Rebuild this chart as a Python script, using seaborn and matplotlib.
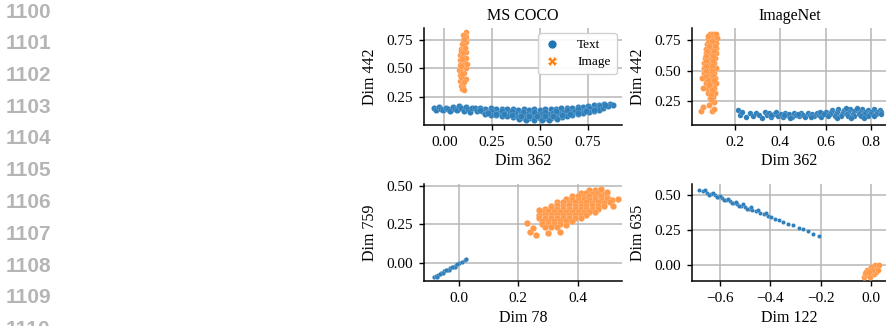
import matplotlib
matplotlib.use("Agg")
import matplotlib.pyplot as plt
from matplotlib.lines import Line2D
import seaborn as sns
import pandas as pd

# ---------------- data ----------------
line_numbers = ["1100", "1101", "1102", "1103", "1104", "1105", "1106", "1107", "1108", "1109", "1110"]
modalities = ["Text", "Image"]

# MS COCO : Dim 362 (x) vs Dim 442 (y)
coco_top_text = [
    (-0.052, 0.158), (-0.041, 0.142), (-0.030, 0.163), (-0.018, 0.150), (-0.005, 0.137), (0.008, 0.160),
    (0.019, 0.146), (0.031, 0.132), (0.044, 0.165), (0.055, 0.150), (0.067, 0.139), (0.078, 0.171),
    (0.090, 0.152), (0.101, 0.128), (0.112, 0.161), (0.124, 0.143), (0.135, 0.118), (0.146, 0.157),
    (0.160, 0.152), (0.188, 0.158), (0.215, 0.149), (0.243, 0.153), (0.272, 0.146), (0.300, 0.150),
    (0.330, 0.144), (0.358, 0.148), (0.387, 0.141), (0.415, 0.146), (0.444, 0.140), (0.472, 0.145),
    (0.500, 0.142), (0.528, 0.147), (0.556, 0.144), (0.585, 0.150), (0.613, 0.152), (0.642, 0.157),
    (0.670, 0.160), (0.698, 0.165), (0.726, 0.168), (0.754, 0.174), (0.782, 0.179), (0.810, 0.185),
    (0.838, 0.190), (0.865, 0.193), (0.882, 0.186),
    (0.172, 0.131), (0.200, 0.126), (0.229, 0.122), (0.257, 0.118), (0.286, 0.116), (0.314, 0.112),
    (0.343, 0.110), (0.371, 0.108), (0.400, 0.105), (0.428, 0.104), (0.457, 0.102), (0.485, 0.103),
    (0.514, 0.104), (0.542, 0.106), (0.571, 0.109), (0.599, 0.113), (0.628, 0.118), (0.656, 0.123),
    (0.685, 0.129), (0.713, 0.134), (0.742, 0.141), (0.770, 0.148), (0.799, 0.155), (0.827, 0.162),
    (0.855, 0.170),
    (0.185, 0.140), (0.243, 0.134), (0.300, 0.130), (0.357, 0.127), (0.414, 0.124), (0.471, 0.123),
    (0.528, 0.125), (0.585, 0.129), (0.642, 0.136), (0.699, 0.146), (0.756, 0.156), (0.813, 0.170),
    (0.215, 0.104), (0.244, 0.098), (0.272, 0.093), (0.301, 0.088), (0.329, 0.083), (0.358, 0.078),
    (0.386, 0.074), (0.415, 0.071), (0.443, 0.068), (0.472, 0.066), (0.500, 0.065), (0.529, 0.067),
    (0.557, 0.070), (0.586, 0.074), (0.614, 0.080), (0.643, 0.087), (0.671, 0.095), (0.700, 0.103),
    (0.728, 0.112), (0.757, 0.122), (0.785, 0.132), (0.812, 0.142),
    (0.390, 0.060), (0.430, 0.054), (0.470, 0.050), (0.510, 0.049), (0.550, 0.053), (0.590, 0.060),
    (0.229, 0.113), (0.272, 0.107), (0.315, 0.100), (0.357, 0.095), (0.400, 0.090), (0.443, 0.086),
    (0.486, 0.084), (0.529, 0.085), (0.571, 0.089), (0.614, 0.096), (0.657, 0.105), (0.700, 0.116),
    (0.743, 0.127), (0.786, 0.140), (0.829, 0.152), (0.843, 0.178),
]
coco_top_image = [
    (0.112, 0.820), (0.108, 0.790), (0.115, 0.770), (0.100, 0.750), (0.112, 0.730), (0.095, 0.710),
    (0.110, 0.690), (0.088, 0.670), (0.105, 0.660), (0.115, 0.640), (0.085, 0.620), (0.100, 0.610),
    (0.112, 0.590), (0.080, 0.570), (0.095, 0.560), (0.108, 0.550), (0.082, 0.530), (0.098, 0.510),
    (0.112, 0.500), (0.078, 0.490), (0.090, 0.470), (0.105, 0.460), (0.085, 0.440), (0.100, 0.420),
    (0.112, 0.410), (0.083, 0.390), (0.097, 0.370), (0.088, 0.350), (0.100, 0.340), (0.092, 0.320),
    (0.105, 0.310), (0.090, 0.430), (0.100, 0.530), (0.092, 0.600), (0.102, 0.700), (0.100, 0.790),
    (0.090, 0.650), (0.090, 0.520), (0.104, 0.380), (0.118, 0.540), (0.105, 0.760), (0.098, 0.640),
    (0.094, 0.450), (0.095, 0.580), (0.106, 0.680),
]

# ImageNet : Dim 362 (x) vs Dim 442 (y)
imnet_top_text = [
    (0.215, 0.180), (0.222, 0.140), (0.232, 0.160), (0.251, 0.120), (0.268, 0.150), (0.281, 0.131),
    (0.292, 0.155), (0.308, 0.140), (0.321, 0.110), (0.333, 0.160), (0.342, 0.135), (0.353, 0.150),
    (0.362, 0.125), (0.371, 0.145), (0.382, 0.160), (0.391, 0.130), (0.402, 0.145), (0.411, 0.120),
    (0.421, 0.155), (0.432, 0.135), (0.441, 0.145), (0.452, 0.125), (0.462, 0.150), (0.471, 0.140),
    (0.482, 0.130), (0.493, 0.155), (0.502, 0.140), (0.511, 0.125), (0.522, 0.150), (0.531, 0.135),
    (0.542, 0.145), (0.551, 0.130), (0.562, 0.155), (0.571, 0.140), (0.582, 0.125), (0.591, 0.150),
    (0.358, 0.138), (0.418, 0.137), (0.478, 0.148), (0.538, 0.122), (0.575, 0.160), (0.445, 0.112),
    (0.628, 0.182), (0.655, 0.185), (0.681, 0.180), (0.707, 0.186), (0.733, 0.181), (0.760, 0.184),
    (0.786, 0.179), (0.812, 0.183), (0.838, 0.178),
    (0.602, 0.160), (0.625, 0.164), (0.650, 0.161), (0.675, 0.166), (0.700, 0.163), (0.725, 0.167),
    (0.750, 0.162), (0.775, 0.165), (0.800, 0.161), (0.825, 0.164), (0.845, 0.160),
    (0.595, 0.143), (0.620, 0.147), (0.645, 0.144), (0.670, 0.148), (0.695, 0.145), (0.720, 0.149),
    (0.745, 0.146), (0.770, 0.148), (0.795, 0.144), (0.820, 0.147), (0.842, 0.143),
    (0.610, 0.128), (0.640, 0.130), (0.668, 0.127), (0.697, 0.131), (0.725, 0.128), (0.755, 0.130),
    (0.785, 0.127), (0.815, 0.130),
    (0.650, 0.115), (0.710, 0.117), (0.770, 0.114), (0.690, 0.196), (0.740, 0.197),
]
imnet_top_image = [
    (0.090, 0.800), (0.105, 0.802), (0.118, 0.798),
    (0.082, 0.760), (0.097, 0.763), (0.112, 0.758), (0.121, 0.765),
    (0.078, 0.720), (0.093, 0.724), (0.108, 0.718), (0.120, 0.722),
    (0.075, 0.680), (0.090, 0.683), (0.105, 0.678), (0.118, 0.682),
    (0.072, 0.640), (0.087, 0.643), (0.102, 0.638), (0.117, 0.642),
    (0.068, 0.600), (0.083, 0.603), (0.098, 0.598), (0.113, 0.602),
    (0.066, 0.560), (0.081, 0.563), (0.096, 0.558), (0.111, 0.562),
    (0.064, 0.520), (0.079, 0.523), (0.094, 0.518), (0.109, 0.522), (0.120, 0.519),
    (0.066, 0.480), (0.081, 0.483), (0.096, 0.478), (0.111, 0.482),
    (0.070, 0.440), (0.085, 0.443), (0.100, 0.438), (0.114, 0.442),
    (0.075, 0.400), (0.090, 0.403), (0.105, 0.398), (0.116, 0.402),
    (0.080, 0.360), (0.095, 0.363), (0.110, 0.358),
    (0.085, 0.320), (0.100, 0.323), (0.112, 0.318),
    (0.090, 0.280), (0.105, 0.283), (0.100, 0.250), (0.110, 0.245),
    (0.050, 0.170), (0.062, 0.205), (0.100, 0.172), (0.086, 0.220), (0.110, 0.190),
    (0.060, 0.360), (0.055, 0.440), (0.074, 0.620), (0.088, 0.740),
    (0.085, 0.780), (0.100, 0.740), (0.086, 0.700), (0.112, 0.700), (0.080, 0.660), (0.110, 0.660),
    (0.076, 0.620), (0.106, 0.620), (0.074, 0.580), (0.104, 0.580), (0.072, 0.540), (0.102, 0.540),
    (0.072, 0.500), (0.102, 0.500), (0.076, 0.460), (0.106, 0.460), (0.082, 0.420), (0.110, 0.420),
    (0.088, 0.380), (0.102, 0.340), (0.094, 0.300), (0.097, 0.265),
]

# MS COCO : Dim 78 (x) vs Dim 759 (y)
coco_bot_text = [
    (-0.085, -0.095), (-0.078, -0.088), (-0.070, -0.078), (-0.060, -0.070), (-0.050, -0.058),
    (-0.040, -0.048), (-0.030, -0.038), (-0.020, -0.028), (-0.010, -0.016), (0.000, -0.006),
    (0.010, 0.006), (0.020, 0.016), (0.025, 0.022), (-0.075, -0.092), (-0.055, -0.070),
    (-0.035, -0.050), (-0.015, -0.028), (-0.065, -0.072), (-0.045, -0.050), (-0.025, -0.030),
    (-0.005, -0.008),
]
coco_bot_image = [
    (0.440, 0.470), (0.460, 0.472), (0.476, 0.468),
    (0.410, 0.450), (0.430, 0.452), (0.450, 0.448), (0.470, 0.451), (0.490, 0.447),
    (0.380, 0.430), (0.400, 0.432), (0.420, 0.428), (0.440, 0.431), (0.460, 0.427), (0.480, 0.430), (0.500, 0.428),
    (0.360, 0.410), (0.380, 0.412), (0.400, 0.408), (0.420, 0.411), (0.440, 0.407), (0.460, 0.410),
    (0.480, 0.409), (0.500, 0.411), (0.515, 0.406),
    (0.330, 0.390), (0.350, 0.392), (0.370, 0.388), (0.390, 0.391), (0.410, 0.387), (0.430, 0.390),
    (0.450, 0.388), (0.470, 0.391), (0.490, 0.387), (0.510, 0.390),
    (0.310, 0.370), (0.330, 0.372), (0.350, 0.368), (0.370, 0.371), (0.390, 0.367), (0.410, 0.370),
    (0.430, 0.368), (0.450, 0.371), (0.470, 0.367), (0.490, 0.369),
    (0.290, 0.350), (0.310, 0.352), (0.330, 0.348), (0.350, 0.351), (0.370, 0.347), (0.390, 0.350),
    (0.410, 0.348), (0.430, 0.351), (0.450, 0.347), (0.470, 0.349),
    (0.280, 0.330), (0.300, 0.332), (0.320, 0.328), (0.340, 0.331), (0.360, 0.327), (0.380, 0.330),
    (0.400, 0.328), (0.420, 0.331), (0.440, 0.327), (0.460, 0.329),
    (0.270, 0.310), (0.290, 0.312), (0.310, 0.308), (0.330, 0.311), (0.350, 0.307), (0.370, 0.310),
    (0.390, 0.308), (0.410, 0.311), (0.430, 0.307),
    (0.270, 0.290), (0.290, 0.292), (0.310, 0.288), (0.330, 0.291), (0.350, 0.287), (0.370, 0.290),
    (0.390, 0.288), (0.410, 0.291),
    (0.280, 0.270), (0.300, 0.272), (0.320, 0.268), (0.340, 0.271), (0.360, 0.267), (0.380, 0.270),
    (0.280, 0.250), (0.300, 0.252), (0.320, 0.248), (0.340, 0.251), (0.360, 0.247),
    (0.290, 0.230), (0.310, 0.232), (0.330, 0.228),
    (0.230, 0.255), (0.240, 0.200), (0.260, 0.180), (0.250, 0.225), (0.300, 0.190), (0.340, 0.200),
    (0.270, 0.340), (0.520, 0.370), (0.500, 0.460), (0.480, 0.480), (0.535, 0.410),
]

# ImageNet : Dim 122 (x) vs Dim 635 (y)
imnet_bot_text = [
    (-0.680, 0.535), (-0.665, 0.525), (-0.650, 0.514), (-0.635, 0.504), (-0.620, 0.494), (-0.605, 0.483),
    (-0.590, 0.473), (-0.575, 0.463), (-0.560, 0.452), (-0.545, 0.442), (-0.530, 0.431), (-0.515, 0.421),
    (-0.500, 0.411), (-0.485, 0.400), (-0.470, 0.390), (-0.455, 0.380), (-0.440, 0.369), (-0.425, 0.359),
    (-0.410, 0.349), (-0.395, 0.338), (-0.380, 0.328), (-0.365, 0.318), (-0.350, 0.307),
    (-0.330, 0.293), (-0.310, 0.280), (-0.285, 0.262), (-0.270, 0.252), (-0.250, 0.240), (-0.230, 0.222),
    (-0.205, 0.205),
    (-0.657, 0.532), (-0.627, 0.512), (-0.597, 0.492), (-0.567, 0.471), (-0.537, 0.450), (-0.507, 0.429),
    (-0.477, 0.408), (-0.447, 0.388), (-0.417, 0.367),
    (-0.642, 0.500), (-0.612, 0.479), (-0.582, 0.458), (-0.552, 0.437), (-0.522, 0.417), (-0.492, 0.396),
]
imnet_bot_image = [
    (-0.030, -0.085), (-0.020, -0.075), (-0.010, -0.065), (0.000, -0.055), (0.010, -0.045),
    (0.020, -0.030), (0.025, -0.015), (0.015, -0.005), (0.000, -0.020), (-0.015, -0.040),
    (-0.025, -0.060), (0.010, -0.070), (0.020, -0.055), (-0.005, -0.085), (0.030, -0.005),
    (0.005, -0.035), (-0.020, -0.050), (0.028, -0.035), (-0.008, -0.050),
]

titles = ["MS COCO", "ImageNet", None, None]
x_labels = ["Dim 362", "Dim 362", "Dim 78", "Dim 122"]
y_labels = ["Dim 442", "Dim 442", "Dim 759", "Dim 635"]
x_ticks = [[0.0, 0.25, 0.5, 0.75], [0.2, 0.4, 0.6, 0.8], [0.0, 0.2, 0.4], [-0.6, -0.4, -0.2, 0.0]]
y_ticks = [[0.25, 0.5, 0.75], [0.25, 0.5, 0.75], [0.0, 0.25, 0.5], [0.0, 0.25, 0.5]]
x_fmt = ["{:.2f}", "{:.1f}", "{:.1f}", "{:.1f}"]
y_fmt = ["{:.2f}", "{:.2f}", "{:.2f}", "{:.2f}"]


def make_df(text_pts, image_pts):
    rows = [(x, y, "Text") for x, y in text_pts] + [(x, y, "Image") for x, y in image_pts]
    return pd.DataFrame(rows, columns=["x", "y", "modality"])


panels = [
    make_df(coco_top_text, coco_top_image),
    make_df(imnet_top_text, imnet_top_image),
    make_df(coco_bot_text, coco_bot_image),
    make_df(imnet_bot_text, imnet_bot_image),
]

# marker sizes per panel / modality (style only)
marker_sizes = [
    {"Text": 20, "Image": 17},
    {"Text": 16, "Image": 19},
    {"Text": 10, "Image": 22},
    {"Text": 9, "Image": 18},
]

# ---------------- style ----------------
sns.set_theme(style="whitegrid")
plt.rcParams.update({
    "font.family": ["Liberation Serif", "DejaVu Serif"],
    "axes.edgecolor": "black",
    "axes.linewidth": 1.1,
    "grid.color": "#b7b7b7",
    "grid.linewidth": 1.1,
    "xtick.bottom": True,
    "ytick.left": True,
    "xtick.major.size": 3.5,
    "ytick.major.size": 3.5,
    "xtick.major.width": 1.0,
    "ytick.major.width": 1.0,
    "xtick.color": "black",
    "ytick.color": "black",
    "xtick.labelsize": 11,
    "ytick.labelsize": 11,
    "axes.labelsize": 11.5,
    "axes.titlesize": 11.5,
    "axes.labelcolor": "black",
    "text.color": "black",
})

fig = plt.figure(figsize=(8.87, 3.26), dpi=100)

positions = [
    [0.478, 0.617, 0.223, 0.297],
    [0.780, 0.617, 0.220, 0.297],
    [0.478, 0.137, 0.223, 0.299],
    [0.780, 0.137, 0.220, 0.299],
]
xlims = [(-0.106, 0.929), (0.012, 0.870), (-0.118, 0.549), (-0.710, 0.063)]
ylims = [(0.009, 0.852), (0.057, 0.848), (-0.122, 0.511), (-0.119, 0.576)]

palette = {"Text": "#2f7fbb", "Image": "#ff9a4a"}
legend_colors = {"Text": "#1f77b4", "Image": "#ff7f0e"}
legend_markers = {"Text": "o", "Image": "X"}

for i, df in enumerate(panels):
    ax = fig.add_axes(positions[i])
    for m in modalities:
        sns.scatterplot(
            data=df[df["modality"] == m], x="x", y="y", color=palette[m],
            s=marker_sizes[i][m], linewidth=0.1, edgecolor="white",
            legend=False, ax=ax, zorder=3,
        )
    ax.set_xlim(*xlims[i])
    ax.set_ylim(*ylims[i])
    ax.set_xticks(x_ticks[i])
    ax.set_xticklabels([x_fmt[i].format(v).replace("-", "\u2212") for v in x_ticks[i]])
    ax.set_yticks(y_ticks[i])
    ax.set_yticklabels([y_fmt[i].format(v).replace("-", "\u2212") for v in y_ticks[i]])
    ax.set_xlabel(x_labels[i], labelpad=3)
    ax.set_ylabel(y_labels[i], labelpad=6)
    if titles[i]:
        ax.set_title(titles[i], pad=6)
    ax.tick_params(axis="both", pad=4.5)
    ax.set_axisbelow(True)
    sns.despine(ax=ax)
    if i == 0:
        handles = [Line2D([], [], linestyle="none", marker=legend_markers[m], markersize=6.5,
                          markerfacecolor=legend_colors[m], markeredgecolor="white", markeredgewidth=0.5)
                   for m in modalities]
        leg = ax.legend(handles, modalities, loc="upper right", fontsize=9.5, frameon=True,
                        borderaxespad=0.4, handlelength=1.2, handletextpad=1.3, borderpad=0.45,
                        labelspacing=0.35)
        leg.get_frame().set_edgecolor("#cccccc")
        leg.get_frame().set_alpha(0.9)

for k, num in enumerate(line_numbers):
    yp = 12 + 31.75 * k
    fig.text(6 / 887, 1 - yp / 326, num, ha="left", va="center", fontsize=15,
             fontweight="bold", color="#b5b5b5", family=["Liberation Sans", "DejaVu Sans"])

fig.savefig("out.png", dpi=100)
